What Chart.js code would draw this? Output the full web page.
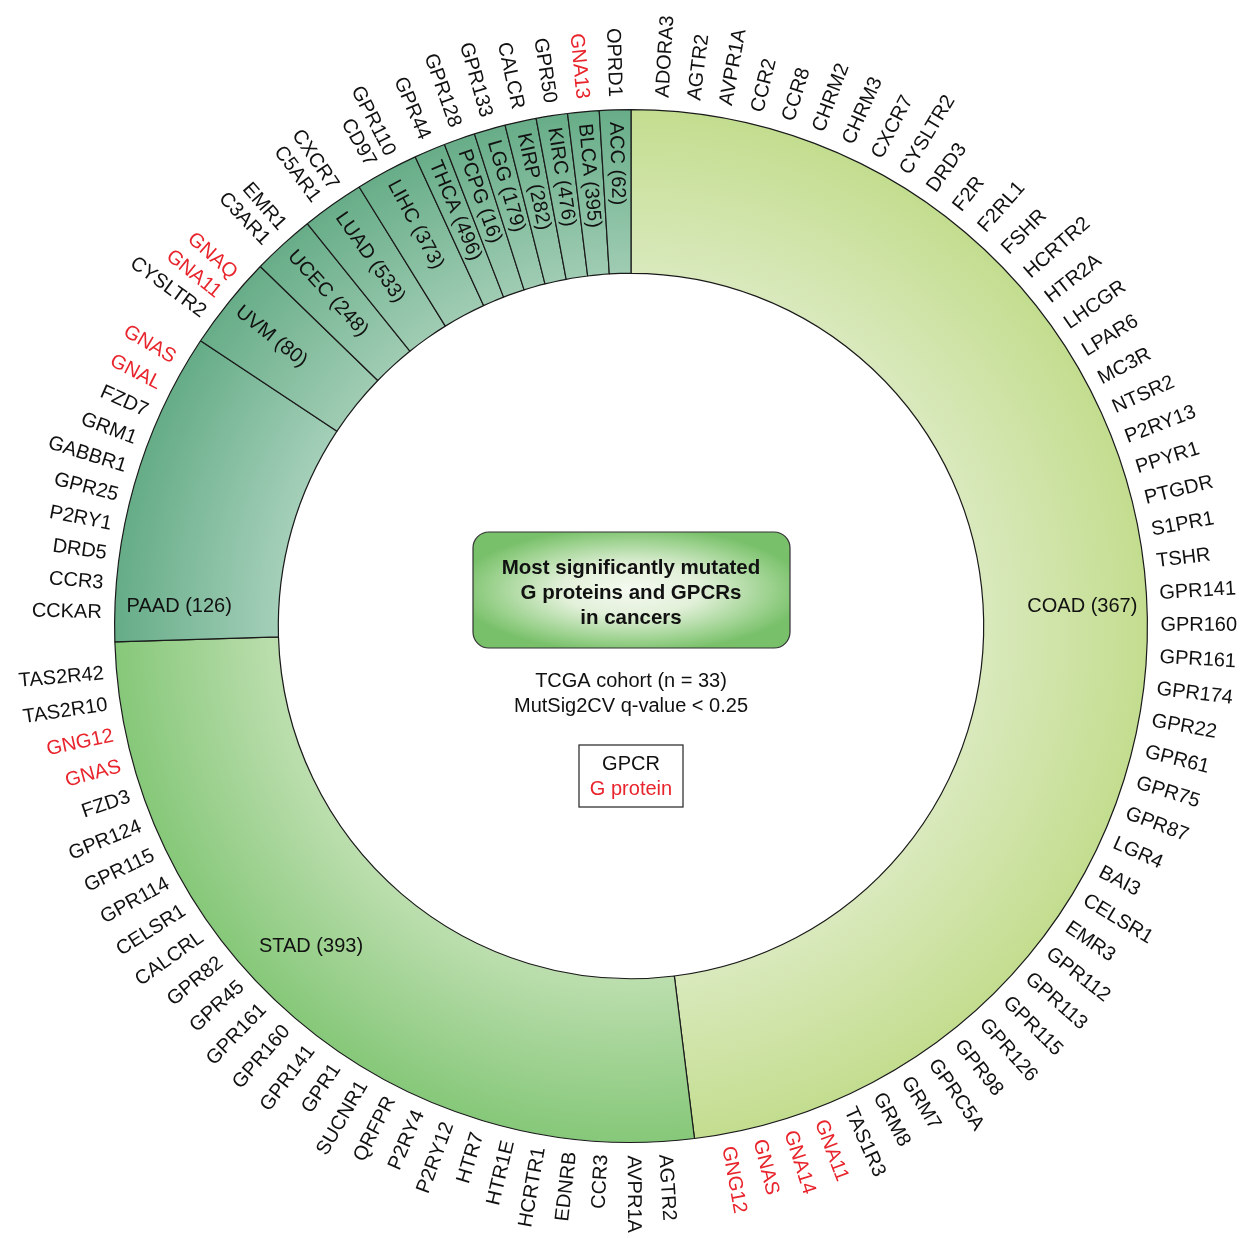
<!DOCTYPE html>
<html>
<head>
<meta charset="utf-8">
<title>G proteins and GPCRs in cancers</title>
<script src="https://cdn.jsdelivr.net/npm/chart.js@4.4.1/dist/chart.umd.min.js"></script>
<style>
  html, body { margin: 0; padding: 0; background: #fff; }
  canvas { display: block; }
</style>
</head>
<body>
<canvas id="gpcrChart" width="1245" height="1238"></canvas>
<script>
// Cancer types, clockwise from 12 o'clock, with TCGA sample sizes
const cancers = ['COAD', 'STAD', 'PAAD', 'UVM', 'UCEC', 'LUAD', 'LIHC', 'THCA', 'PCPG', 'LGG', 'KIRP', 'KIRC', 'BLCA', 'ACC'];
const sampleSizes = [367, 393, 126, 80, 248, 533, 373, 496, 16, 179, 282, 476, 395, 62];

// Significantly mutated genes per cancer (clockwise order)
const coadGenes = ['ADORA3', 'AGTR2', 'AVPR1A', 'CCR2', 'CCR8', 'CHRM2', 'CHRM3', 'CXCR7', 'CYSLTR2', 'DRD3',
    'F2R', 'F2RL1', 'FSHR', 'HCRTR2', 'HTR2A', 'LHCGR', 'LPAR6', 'MC3R', 'NTSR2', 'P2RY13', 'PPYR1', 'PTGDR',
    'S1PR1', 'TSHR', 'GPR141', 'GPR160', 'GPR161', 'GPR174', 'GPR22', 'GPR61', 'GPR75', 'GPR87', 'LGR4', 'BAI3',
    'CELSR1', 'EMR3', 'GPR112', 'GPR113', 'GPR115', 'GPR126', 'GPR98', 'GPRC5A', 'GRM7', 'GRM8', 'TAS1R3',
    'GNA11', 'GNA14', 'GNAS', 'GNG12'];
const stadGenes = ['AGTR2', 'AVPR1A', 'CCR3', 'EDNRB', 'HCRTR1', 'HTR1E', 'HTR7', 'P2RY12', 'P2RY4', 'QRFPR',
    'SUCNR1', 'GPR1', 'GPR141', 'GPR160', 'GPR161', 'GPR45', 'GPR82', 'CALCRL', 'CELSR1', 'GPR114', 'GPR115',
    'GPR124', 'FZD3', 'GNAS', 'GNG12', 'TAS2R10', 'TAS2R42'];
const paadGenes = ['CCKAR', 'CCR3', 'DRD5', 'P2RY1', 'GPR25', 'GABBR1', 'GRM1', 'FZD7', 'GNAL', 'GNAS'];
const uvmGenes = ['CYSLTR2', 'GNA11', 'GNAQ'];
const ucecGenes = ['C3AR1', 'EMR1'];
const luadGenes = ['C5AR1', 'CXCR7'];
const lihcGenes = ['CD97', 'GPR110'];
const thcaGenes = ['GPR44'];
const pcpgGenes = ['GPR128'];
const lggGenes = ['GPR133'];
const kirpGenes = ['CALCR'];
const kircGenes = ['GPR50'];
const blcaGenes = ['GNA13'];
const accGenes = ['OPRD1'];

const geneLists = [coadGenes, stadGenes, paadGenes, uvmGenes, ucecGenes, luadGenes, lihcGenes,
    thcaGenes, pcpgGenes, lggGenes, kirpGenes, kircGenes, blcaGenes, accGenes];
const geneCounts = geneLists.map(list => list.length);

// G proteins are shown in red, GPCRs in black
const gProteins = ['GNA11', 'GNA13', 'GNA14', 'GNAL', 'GNAQ', 'GNAS', 'GNG12'];

// Segment shading: lighter at the inner edge, darker at the outer edge
const innerShades = ['#d9e9bc', '#bcdeae', '#a4cfb9', '#9fccb3', '#9fccb3', '#9fccb3', '#9fccb3',
    '#9fccb3', '#9fccb3', '#9fccb3', '#9fccb3', '#9fccb3', '#9fccb3', '#9fccb3'];
const outerShades = ['#c3dd8f', '#86c879', '#65ac87', '#67ad88', '#67ad88', '#67ad88', '#67ad88',
    '#67ad88', '#67ad88', '#67ad88', '#67ad88', '#67ad88', '#67ad88', '#67ad88'];

const FONT = "'Liberation Sans', Arial, Helvetica, sans-serif";
const CUTOUT = 0.683;

const ringGradient = (context) => {
    const chart = context.chart;
    const area = chart.chartArea;
    const i = context.dataIndex;
    if (!area) return outerShades[i];
    const cx = (area.left + area.right) / 2;
    const cy = (area.top + area.bottom) / 2;
    const outer = Math.min(area.width, area.height) / 2;
    const g = chart.ctx.createRadialGradient(cx, cy, outer * CUTOUT, cx, cy, outer);
    g.addColorStop(0, innerShades[i]);
    g.addColorStop(1, outerShades[i]);
    return g;
};

// Gene names around the ring + cancer names inside the segments
const ringLabels = {
    id: 'ringLabels',
    afterDatasetsDraw(chart) {
        const ctx = chart.ctx;
        const arcs = chart.getDatasetMeta(0).data;
        ctx.save();
        ctx.textBaseline = 'middle';
        ctx.font = `20px ${FONT}`;

        arcs.forEach((arc, idx) => {
            const { x, y, startAngle, endAngle, outerRadius, innerRadius } = arc.getProps(
                ['x', 'y', 'startAngle', 'endAngle', 'outerRadius', 'innerRadius'], true);
            const genes = geneLists[idx];
            const n = genes.length;
            const labelR = outerRadius + 13;

            // gene labels spread evenly inside the segment
            genes.forEach((gene, k) => {
                const a = startAngle + (endAngle - startAngle) * (k + 1) / (n + 1);
                ctx.save();
                ctx.translate(x, y);
                ctx.fillStyle = gProteins.includes(gene) ? '#e8242c' : '#111';
                if (Math.cos(a) > 0) {
                    ctx.rotate(a);
                    ctx.textAlign = 'left';
                    ctx.fillText(gene, labelR, 0);
                } else {
                    ctx.rotate(a + Math.PI);
                    ctx.textAlign = 'right';
                    ctx.fillText(gene, -labelR, 0);
                }
                ctx.restore();
            });

            // cancer name with sample size
            const text = `${cancers[idx]} (${sampleSizes[idx]})`;
            ctx.fillStyle = '#111';
            ctx.save();
            ctx.translate(x, y);
            if (cancers[idx] === 'COAD') {
                ctx.textAlign = 'right';
                ctx.fillText(text, outerRadius - 10, -20);
            } else if (cancers[idx] === 'PAAD') {
                ctx.textAlign = 'left';
                ctx.fillText(text, -outerRadius + 12, -20);
            } else if (cancers[idx] === 'STAD') {
                const a = Math.PI * 0.75;
                const r = (outerRadius + innerRadius) / 2 + 18;
                ctx.textAlign = 'center';
                ctx.fillText(text, r * Math.cos(a), r * Math.sin(a));
            } else {
                const a = (startAngle + endAngle) / 2;
                ctx.rotate(a + Math.PI);
                ctx.textAlign = 'left';
                ctx.fillText(text, -(outerRadius - 12), 0);
            }
            ctx.restore();
        });
        ctx.restore();
    }
};

// Title box, cohort note and colour key in the middle of the ring
const centerPanel = {
    id: 'centerPanel',
    afterDraw(chart) {
        const ctx = chart.ctx;
        const area = chart.chartArea;
        const cx = (area.left + area.right) / 2;
        const cy = (area.top + area.bottom) / 2;
        ctx.save();

        // rounded title box with a soft green glow
        const bx = cx - 158, by = cy - 94, bw = 317, bh = 116, br = 16;
        ctx.beginPath();
        ctx.roundRect(bx, by, bw, bh, br);
        ctx.save();
        ctx.clip();
        ctx.translate(cx, by + bh / 2);
        ctx.scale(1, 0.36);
        const g = ctx.createRadialGradient(0, 0, 0, 0, 0, 175);
        g.addColorStop(0, '#f5faf1');
        g.addColorStop(0.4, '#e2f0d9');
        g.addColorStop(0.82, '#98d08a');
        g.addColorStop(1, '#78c06a');
        ctx.fillStyle = g;
        ctx.fillRect(-200, -600, 400, 1200);
        ctx.restore();
        ctx.lineWidth = 1.2;
        ctx.strokeStyle = '#333';
        ctx.stroke();

        ctx.fillStyle = '#111';
        ctx.textAlign = 'center';
        ctx.textBaseline = 'middle';
        ctx.font = `bold 20.5px ${FONT}`;
        ctx.fillText('Most significantly mutated', cx, cy - 58);
        ctx.fillText('G proteins and GPCRs', cx, cy - 33);
        ctx.fillText('in cancers', cx, cy - 8);

        ctx.font = `20px ${FONT}`;
        ctx.fillText('TCGA cohort (n = 33)', cx, cy + 55);
        ctx.fillText('MutSig2CV q-value < 0.25', cx, cy + 80);

        // colour key
        ctx.lineWidth = 1.2;
        ctx.strokeStyle = '#222';
        ctx.strokeRect(cx - 52, cy + 119, 104, 62);
        ctx.fillText('GPCR', cx, cy + 138);
        ctx.fillStyle = '#e8242c';
        ctx.fillText('G protein', cx, cy + 163);
        ctx.restore();
    }
};

new Chart(document.getElementById('gpcrChart'), {
    type: 'doughnut',
    data: {
        labels: cancers,
        datasets: [{
            data: geneCounts,
            backgroundColor: ringGradient,
            borderColor: '#1a1a1a',
            borderWidth: 1.2
        }]
    },
    options: {
        responsive: false,
        devicePixelRatio: 1,
        animation: false,
        cutout: `${CUTOUT * 100}%`,
        layout: { padding: { left: 114, right: 97, top: 109, bottom: 95 } },
        plugins: {
            legend: { display: false },
            tooltip: { enabled: false }
        }
    },
    plugins: [ringLabels, centerPanel]
});
</script>
</body>
</html>
